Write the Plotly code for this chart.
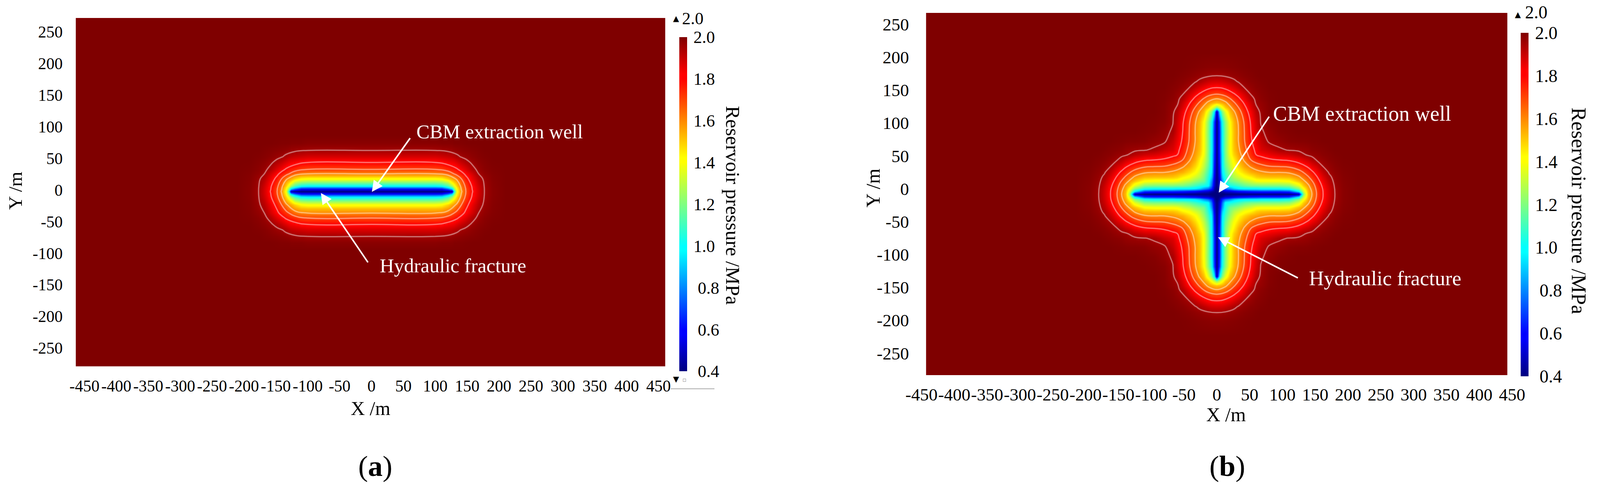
import plotly.graph_objects as go

W, H = 4102, 1254
SERIF = "Liberation Serif"

# ---------- axis ticks ----------
X_TICKS = list(range(-450, 451, 50))
Y_TICKS = list(range(-250, 251, 50))
CB_TICKS = [0.4, 0.6, 0.8, 1.0, 1.2, 1.4, 1.6, 1.8, 2.0]
CB_TEXT = ["\u00a00.4", "\u00a00.6", "\u00a00.8", "1.0", "1.2", "1.4", "1.6", "1.8", "2.0"]
CONTOUR_LEVELS = [1.6, 1.7, 1.8, 1.95]
BACKGROUND = 2.0

# ---------- panel (a): pressure, right half of the field ----------
A_X = [0, 100, 110, 120, 126, 130, 134, 141, 148, 158, 168, 177, 190, 210, 470]
A_Y_UP = [0, 3, 6, 9, 14, 20, 24, 28, 35, 46, 55, 65, 76, 88, 285]
A_Y_LOW = [0, 3, 6, 9, 15, 21, 27, 34, 42, 52, 61, 71, 81, 92, 285]
A_FRACTURE_Y = -2.5
A_P = [
    [.40, .40, .40, .42, .45, 1.05, 1.40, 1.59, 1.70, 1.795, 1.88, 1.95, 1.985, 2, 2],
    [.55, .55, .55, .68, .82, 1.18, 1.43, 1.595, 1.70, 1.797, 1.88, 1.95, 1.985, 2, 2],
    [.78, .78, .80, .95, 1.10, 1.29, 1.46, 1.61, 1.71, 1.80, 1.885, 1.951, 1.985, 2, 2],
    [1.0, 1.0, 1.02, 1.12, 1.25, 1.39, 1.50, 1.63, 1.72, 1.81, 1.89, 1.953, 1.986, 2, 2],
    [1.2, 1.2, 1.22, 1.29, 1.43, 1.49, 1.55, 1.66, 1.74, 1.82, 1.905, 1.957, 1.987, 2, 2],
    [1.4, 1.4, 1.42, 1.49, 1.55, 1.58, 1.62, 1.70, 1.77, 1.85, 1.92, 1.962, 1.989, 2, 2],
    [1.52, 1.52, 1.53, 1.57, 1.61, 1.63, 1.68, 1.73, 1.79, 1.865, 1.935, 1.967, 1.99, 2, 2],
    [1.6, 1.6, 1.61, 1.64, 1.68, 1.71, 1.73, 1.77, 1.82, 1.885, 1.95, 1.974, 1.992, 2, 2],
    [1.7, 1.7, 1.71, 1.74, 1.76, 1.77, 1.79, 1.83, 1.87, 1.93, 1.965, 1.984, 1.995, 2, 2],
    [1.8, 1.8, 1.81, 1.83, 1.84, 1.85, 1.87, 1.90, 1.93, 1.96, 1.98, 1.99, 1.999, 2, 2],
    [1.88, 1.88, 1.89, 1.90, 1.91, 1.92, 1.935, 1.955, 1.965, 1.98, 1.99, 1.996, 2, 2, 2],
    [1.95, 1.95, 1.955, 1.96, 1.965, 1.97, 1.975, 1.98, 1.985, 1.99, 1.995, 2, 2, 2, 2],
    [1.985, 1.985, 1.99, 1.99, 1.99, 1.995, 1.995, 1.995, 1.998, 2, 2, 2, 2, 2, 2],
    [2] * 15,
    [2] * 15,
]
# grid lines the white contour traces skip: contours stay rounder without tightly packed nodes
A_CONTOUR_SKIP_X = {2, 4, 5}
A_CONTOUR_SKIP_Y = {1, 2, 4, 6}

# ---------- panel (b): pressure, one octant of the cross ----------
# each row starts on the diagonal; omitted trailing cells are background pressure
B_NODES = [0, 4, 8, 13, 20, 26, 33, 42, 52, 60, 67, 80, 95, 110, 125, 132, 139, 145, 152,
           162, 171, 180, 193, 215, 437, 441]
B_CENTER_Y = -8.3
B_OCTANT = [
    [.35, .37, .38, .40, .40, .40, .40, .40, .40, .40, .40, .40, .40, .40, .45, 1.2, 1.52, 1.6, 1.7, 1.8, 1.88, 1.95, 1.985],
    [.42, .45, .50, .52, .55, .58, .60, .63, .64, .65, .65, .65, .68, .95, 1.3, 1.53, 1.61, 1.705, 1.805, 1.882, 1.951, 1.985],
    [.65, .75, .82, .90, .95, .98, .98, .98, 1.0, 1.0, 1.0, 1.03, 1.2, 1.4, 1.55, 1.62, 1.71, 1.81, 1.885, 1.953, 1.985],
    [1.0, 1.03, 1.06, 1.10, 1.15, 1.19, 1.19, 1.2, 1.2, 1.2, 1.22, 1.36, 1.5, 1.58, 1.65, 1.73, 1.82, 1.895, 1.958, 1.986],
    [1.17, 1.2, 1.24, 1.3, 1.34, 1.39, 1.4, 1.4, 1.4, 1.42, 1.52, 1.57, 1.63, 1.695, 1.76, 1.845, 1.915, 1.965, 1.988],
    [1.28, 1.33, 1.4, 1.44, 1.49, 1.51, 1.52, 1.52, 1.53, 1.585, 1.63, 1.69, 1.735, 1.79, 1.87, 1.935, 1.97, 1.99],
    [1.42, 1.48, 1.54, 1.56, 1.58, 1.6, 1.6, 1.61, 1.66, 1.7, 1.74, 1.78, 1.83, 1.905, 1.955, 1.977, 1.993],
    [1.56, 1.61, 1.65, 1.67, 1.695, 1.7, 1.71, 1.75, 1.78, 1.81, 1.85, 1.885, 1.95, 1.97, 1.986, 1.996],
    [1.7, 1.74, 1.76, 1.785, 1.8, 1.81, 1.84, 1.87, 1.895, 1.925, 1.953, 1.97, 1.985, 1.992, 1.999],
    [1.8, 1.82, 1.85, 1.875, 1.89, 1.92, 1.94, 1.96, 1.965, 1.97, 1.985, 1.99, 1.997],
    [1.87, 1.90, 1.94, 1.953, 1.96, 1.965, 1.97, 1.98, 1.985, 1.99, 1.996],
    [1.96, 1.97, 1.986, 1.99, 1.99, 1.992, 1.995, 1.996],
    [1.99, 1.995],
]
B_CONTOUR_SKIP = {1, 2, 4, 15}

# ---------- colour scale ----------
JET = [[0.0, "#00007f"], [0.11, "#0000ff"], [0.125, "#0000ff"], [0.36, "#00ffff"], [0.375, "#00ffff"],
       [0.625, "#ffff00"], [0.64, "#ffff00"], [0.875, "#ff0000"], [0.89, "#ff0000"], [1.0, "#7f0000"]]


def px(x):
    return x / W


def py(y):
    return 1 - y / H


def mirror_cols(row):
    return row[:0:-1] + row


def panel_a_field():
    xs = [-v for v in A_X[:0:-1]] + A_X
    ys = [A_FRACTURE_Y - v for v in A_Y_LOW[:0:-1]] + [A_FRACTURE_Y + v for v in A_Y_UP]
    rows = [mirror_cols(r) for r in A_P]
    z = rows[:0:-1] + rows
    return xs, ys, z


def panel_b_field():
    n = len(B_NODES)
    q = [[BACKGROUND] * n for _ in range(n)]
    for i, row in enumerate(B_OCTANT):
        for j, v in enumerate(row):
            q[i][i + j] = v
            q[i + j][i] = v
    xs = [-v for v in B_NODES[:0:-1]] + B_NODES
    ys = [B_CENTER_Y - v for v in B_NODES[:0:-1]] + [B_CENTER_Y + v for v in B_NODES]
    rows = [mirror_cols(r) for r in q]
    return xs, ys, rows[:0:-1] + rows


def thin(field, skip_x, skip_y):
    xs, ys, z = field
    cx, cy = len(xs) // 2, len(ys) // 2
    keep_x = [i for i in range(len(xs)) if abs(i - cx) not in skip_x]
    keep_y = [j for j in range(len(ys)) if abs(j - cy) not in skip_y]
    return [xs[i] for i in keep_x], [ys[j] for j in keep_y], [[z[j][i] for i in keep_x] for j in keep_y]


fig = go.Figure()


def add_panel(idx, field, lines, bar_x, bar_top, bar_bottom, cb_size):
    xs, ys, z = field
    sfx = "" if idx == 1 else str(idx)
    fig.add_trace(go.Heatmap(
        x=xs, y=ys, z=z, xaxis="x" + sfx, yaxis="y" + sfx, zmin=0.4, zmax=2.0,
        colorscale=JET, zsmooth="best", hoverinfo="skip",
        colorbar=dict(
            x=px(bar_x), xanchor="left", xpad=0, xref="paper", thickness=20, thicknessmode="pixels",
            y=py(bar_top), yanchor="top", ypad=0, yref="paper", len=(bar_bottom - bar_top) / H, lenmode="fraction",
            tickmode="array", tickvals=CB_TICKS, ticktext=CB_TEXT, ticks="outside", ticklen=8,
            tickcolor="rgba(0,0,0,0)", outlinewidth=0, borderwidth=0,
            tickfont=dict(family=SERIF, size=cb_size, color="#000000"),
        ),
    ))
    lx, ly, lz = lines
    for level in CONTOUR_LEVELS:
        fig.add_trace(go.Contour(
            x=lx, y=ly, z=lz, xaxis="x" + sfx, yaxis="y" + sfx, showscale=False, hoverinfo="skip",
            contours=dict(start=level, end=level, size=1, coloring="none", showlabels=False),
            line=dict(color="rgba(255,255,255,0.42)", width=3.5, smoothing=1.3),
        ))


a_field = panel_a_field()
b_field = panel_b_field()
add_panel(1, a_field, thin(a_field, A_CONTOUR_SKIP_X, A_CONTOUR_SKIP_Y), 1739, 95, 950, 44)
add_panel(2, b_field, thin(b_field, B_CONTOUR_SKIP, B_CONTOUR_SKIP), 3893, 84, 963, 46)


def axis(domain_px, rng, ticks, size, ticklen):
    return dict(domain=domain_px, range=rng, tickmode="array", tickvals=ticks,
                ticktext=[str(t) for t in ticks], ticks="outside", ticklen=ticklen, tickwidth=1,
                tickcolor="rgba(0,0,0,0)", tickangle=0, showgrid=False, zeroline=False, showline=False,
                tickfont=dict(family=SERIF, size=size, color="#000000"))


fig.update_layout(
    width=W, height=H, margin=dict(l=0, r=0, t=0, b=0, autoexpand=False), paper_bgcolor="white", plot_bgcolor="white",
    showlegend=False,
    xaxis=dict(axis([px(194), px(1703)], [-463.6, 460.5], X_TICKS, 42, 13), anchor="y"),
    yaxis=dict(axis([py(937.5), py(46)], [-279, 272], Y_TICKS, 42, 24), anchor="x"),
    xaxis2=dict(axis([px(2359), px(3871)], [-450, 450], X_TICKS, 45, 10), anchor="y2"),
    yaxis2=dict(axis([py(960), py(33)], [-283.3, 267.2], Y_TICKS, 45, 22), anchor="x2"),
)


def text(x, y, s, size, color="#000000", angle=0, anchor="center", family=SERIF):
    fig.add_annotation(xref="paper", yref="paper", x=px(x), y=py(y), text=s, showarrow=False,
                       xanchor=anchor, yanchor="middle", textangle=angle, borderpad=0,
                       font=dict(family=family, size=size, color=color))


def arrow(tail, head):
    fig.add_annotation(xref="paper", yref="paper", axref="pixel", ayref="pixel",
                       x=px(head[0]), y=py(head[1]), ax=tail[0] - head[0], ay=tail[1] - head[1], text="",
                       showarrow=True, arrowhead=2, arrowsize=1.4, arrowwidth=4, arrowcolor="#ffffff",
                       standoff=0, startstandoff=0)


# panel (a) texts
text(949, 1045, "X /m", 50)
text(40, 488, "Y /m", 49, angle=-90)
text(1877, 525, "Reservoir pressure /MPa", 51.5, angle=90)
text(960, 1192, "(<b>a</b>)", 75)
text(1773, 48, "2.0", 44)
text(1731, 47, "\u25b2", 20, family="DejaVu Sans")
text(1731, 970, "\u25bc", 20, family="DejaVu Sans")
text(1752, 971, "\u25ab", 16, color="#999999", family="DejaVu Sans")
text(1065, 337, "CBM extraction well", 50.5, color="#ffffff", anchor="left")
text(971, 680, "Hydraulic fracture", 51, color="#ffffff", anchor="left")
arrow((1051, 352), (952, 491))
arrow((943, 673), (821.5, 494))

# panel (b) texts
text(3139, 1061, "X /m", 50)
text(2235, 481, "Y /m", 50, angle=-90)
text(4042, 539, "Reservoir pressure /MPa", 53.5, angle=90)
text(3142, 1192, "(<b>b</b>)", 75)
text(3933, 32, "2.0", 46)
text(3886, 37, "\u25b2", 20, family="DejaVu Sans")
text(3258, 291, "CBM extraction well", 54, color="#ffffff", anchor="left")
text(3350, 712, "Hydraulic fracture", 53, color="#ffffff", anchor="left")
arrow((3250, 297), (3120, 493))
arrow((3324, 712), (3118, 607))

fig.add_shape(type="line", xref="paper", yref="paper", x0=px(1717), x1=px(1829), y0=py(995), y1=py(995),
              line=dict(color="#aaaaaa", width=2))

fig.write_html("out.html", config=dict(displayModeBar=False),
               post_script="document.body.style.margin='0';document.body.style.overflow='hidden';")
